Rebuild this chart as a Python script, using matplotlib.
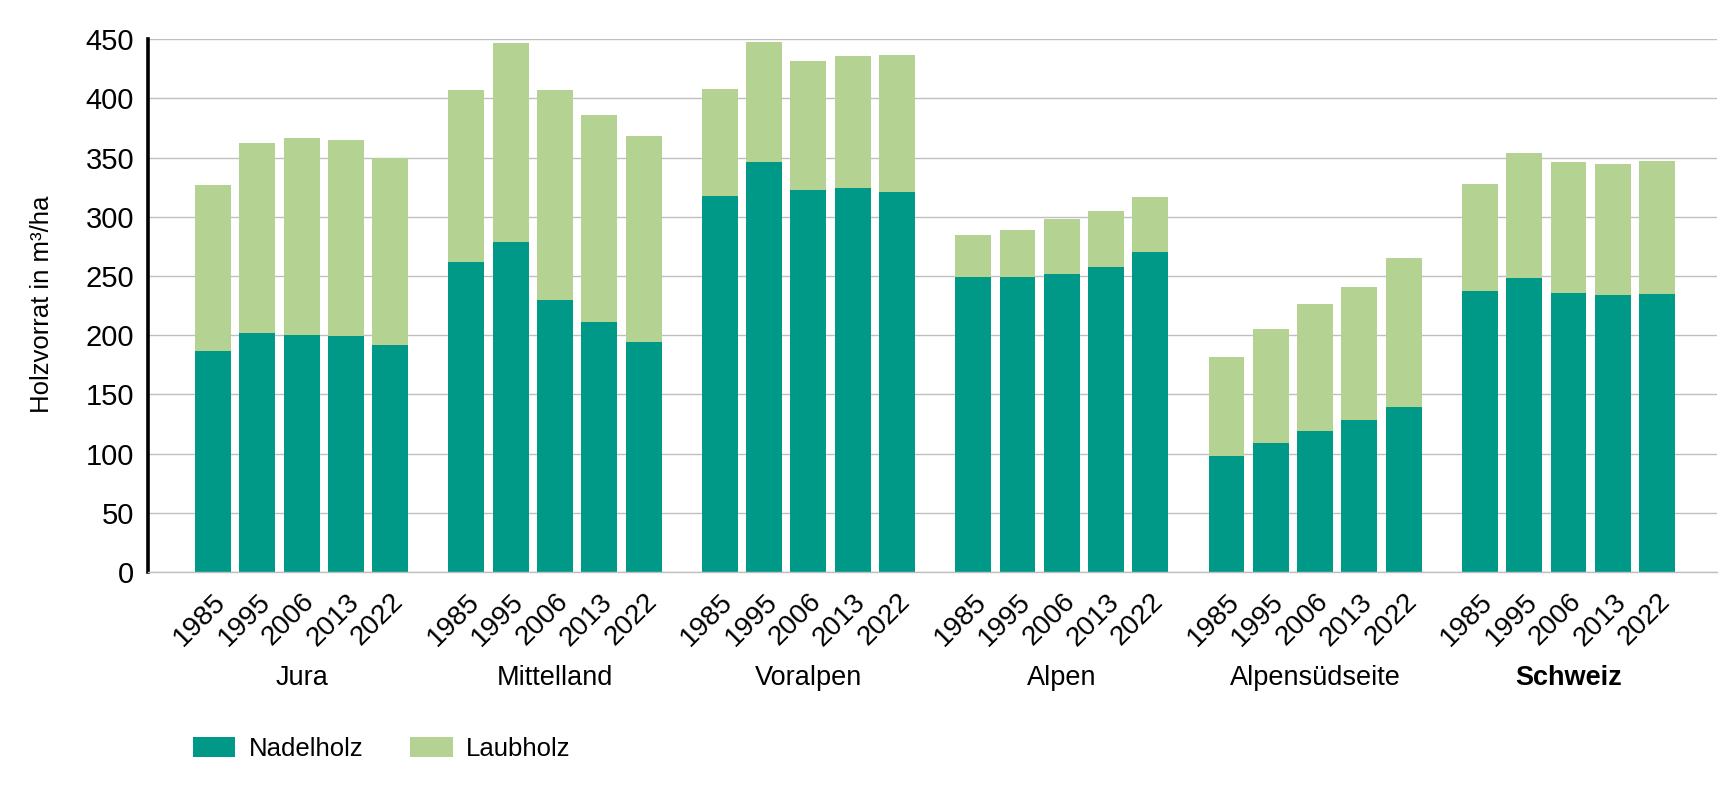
import matplotlib.pyplot as plt
import matplotlib.transforms as mtransforms
import numpy as np

plt.rcParams['font.family'] = ['Liberation Sans', 'DejaVu Sans']

jahre = ["1985", "1995", "2006", "2013", "2022"]
regionen = ["Jura", "Mittelland", "Voralpen", "Alpen", "Alpensüdseite", "Schweiz"]

# Holzvorrat in m3/ha, eine Zeile pro Region (1985, 1995, 2006, 2013, 2022)
nadelholz = [
    [187, 202, 200, 199, 192],
    [262, 279, 230, 211, 194],
    [318, 346, 323, 324, 321],
    [249, 249, 252, 258, 270],
    [98, 109, 119, 128, 139],
    [237, 248, 236, 234, 235],
]
laubholz = [
    [140, 160, 167, 166, 158],
    [145, 168, 177, 175, 174],
    [90, 102, 109, 112, 116],
    [36, 40, 46, 47, 47],
    [84, 96, 107, 113, 126],
    [91, 106, 110, 111, 112],
]

farbe_nadel = "#009987"
farbe_laub = "#b4d291"

fig = plt.figure(figsize=(17.2, 7.94), dpi=100)
ax = fig.add_axes([0.086, 0.2796, 0.9122, 0.6709])

gruppe = 5.72
positionen = []
for g in range(len(regionen)):
    x = g * gruppe + np.arange(len(jahre))
    positionen.extend(x)
    ax.bar(x, nadelholz[g], width=0.81, color=farbe_nadel,
           label="Nadelholz" if g == 0 else None)
    ax.bar(x, laubholz[g], bottom=nadelholz[g], width=0.81, color=farbe_laub,
           label="Laubholz" if g == 0 else None)

ax.set_xlim(-1.47, 33.95)
ax.set_ylim(0, 450)
ax.set_yticks(range(0, 451, 50))
ax.yaxis.grid(True, color="#bfbfbf", linewidth=1)
ax.set_axisbelow(True)

for s in ["top", "right"]:
    ax.spines[s].set_visible(False)
ax.spines["bottom"].set_color("#bfbfbf")
ax.spines["bottom"].set_linewidth(1)
ax.spines["left"].set_color("black")
ax.spines["left"].set_linewidth(2.6)

ax.tick_params(axis="y", length=0, pad=10, labelsize=21)
ax.tick_params(axis="x", length=0, pad=12)

ax.set_xticks(positionen)
ax.set_xticklabels(jahre * len(regionen), rotation=45, ha="right", va="top",
                   rotation_mode="anchor", fontsize=20)

trans = mtransforms.blended_transform_factory(ax.transData, ax.transAxes)
for g, name in enumerate(regionen):
    ax.text(g * gruppe + 2, -0.199, name, transform=trans, ha="center", va="center",
            fontsize=19.5, fontweight="bold" if name == "Schweiz" else "normal")

fig.text(42 / 1720, 1 - 304 / 794, "Holzvorrat in m³/ha", rotation=90,
         ha="center", va="center", fontsize=18.5)

ax.legend(loc="center left", bbox_to_anchor=(193 / 1720, 0.0567),
          bbox_transform=fig.transFigure, ncol=2, frameon=False, fontsize=18.5,
          handlelength=1.64, handleheight=0.8, handletextpad=0.52,
          columnspacing=1.84, borderpad=0, borderaxespad=0)

fig.savefig("out.png", dpi=100)
